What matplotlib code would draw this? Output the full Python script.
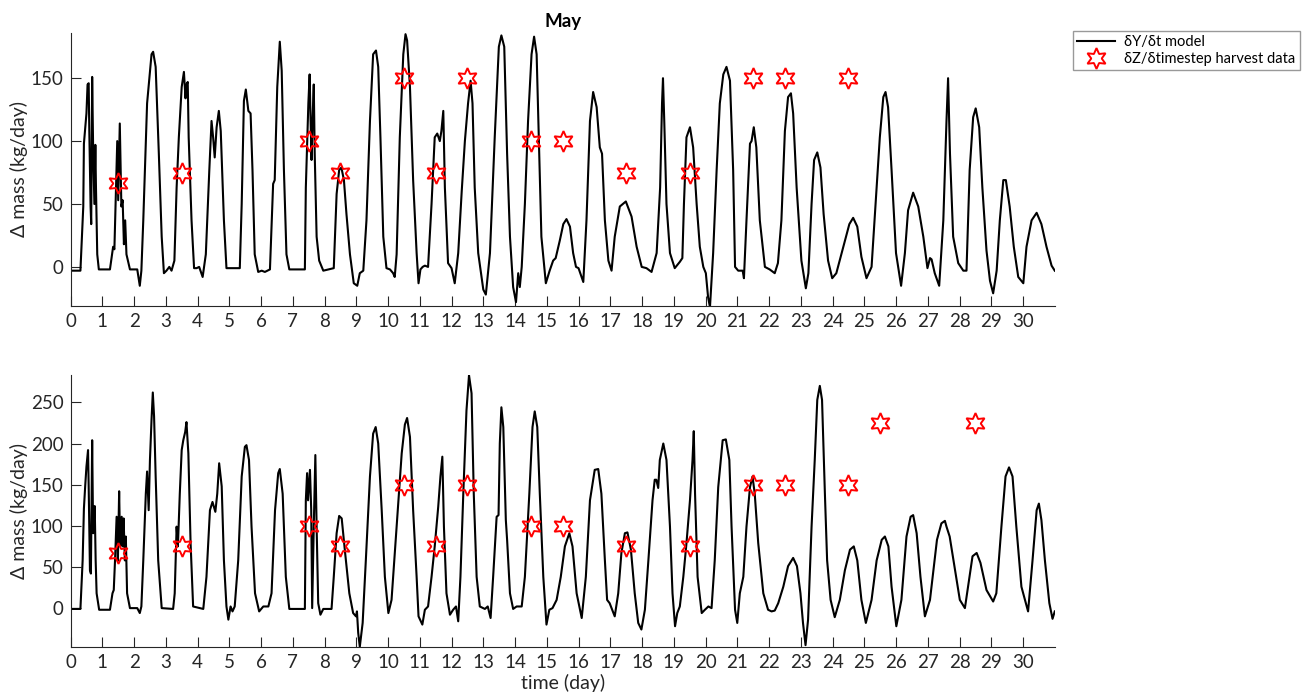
import matplotlib.pyplot as plt
import numpy as np

plt.rcParams['font.family'] = ['Lato', 'DejaVu Sans']

# model curve, top panel (time in days, kg/day)
t_top = [0.0, 0.31, 0.40, 0.42, 0.50, 0.535, 0.57, 0.59, 0.63, 0.65, 0.68, 0.71, 0.75, 0.78, 0.80, 0.84, 0.89,
         1.24, 1.34, 1.38, 1.43, 1.47, 1.50, 1.55, 1.60, 1.64, 1.68, 1.72, 1.76, 1.87, 2.10, 2.18, 2.23, 2.29,
         2.41, 2.55, 2.60, 2.68, 2.78, 2.87, 2.94, 3.02, 3.11, 3.18, 3.27, 3.34, 3.41, 3.50, 3.57, 3.62, 3.65,
         3.69, 3.72, 3.81, 3.89, 3.97, 4.05, 4.16, 4.26, 4.37, 4.44, 4.49, 4.54, 4.60, 4.67, 4.73, 4.83, 4.91,
         5.33, 5.39, 5.46, 5.52, 5.60, 5.67, 5.73, 5.80, 5.91, 6.02, 6.12, 6.28, 6.38, 6.43, 6.51, 6.59, 6.65,
         6.72, 6.80, 6.89, 7.38, 7.41, 7.49, 7.53, 7.56, 7.59, 7.62, 7.66, 7.69, 7.75, 7.83, 7.96, 8.29, 8.38,
         8.46, 8.53, 8.61, 8.69, 8.80, 8.92, 9.03, 9.11, 9.22, 9.32, 9.43, 9.53, 9.62, 9.69, 9.76, 9.85, 9.95,
         10.06, 10.16, 10.21, 10.27, 10.37, 10.48, 10.55, 10.60, 10.69, 10.79, 10.90, 10.96, 11.02, 11.09, 11.16,
         11.26, 11.37, 11.47, 11.55, 11.63, 11.68, 11.74, 11.79, 11.89, 12.00, 12.10, 12.21, 12.32, 12.42, 12.52,
         12.60, 12.66, 12.73, 12.84, 13.00, 13.08, 13.21, 13.36, 13.49, 13.57, 13.66, 13.75, 13.84, 13.94, 14.03,
         14.10, 14.15, 14.21, 14.31, 14.41, 14.52, 14.60, 14.68, 14.76, 14.83, 14.97, 15.09, 15.20, 15.28, 15.41,
         15.52, 15.62, 15.73, 15.83, 15.92, 16.00, 16.15, 16.25, 16.36, 16.46, 16.57, 16.67, 16.74, 16.83, 16.94,
         17.04, 17.14, 17.30, 17.49, 17.67, 17.83, 17.99, 18.14, 18.30, 18.46, 18.57, 18.63, 18.66, 18.70, 18.77,
         18.88, 19.03, 19.19, 19.27, 19.32, 19.40, 19.51, 19.61, 19.72, 19.82, 19.93, 20.01, 20.08, 20.14, 20.24,
         20.35, 20.45, 20.56, 20.66, 20.77, 20.87, 20.93, 21.03, 21.17, 21.21, 21.29, 21.40, 21.45, 21.52, 21.60,
         21.71, 21.87, 22.02, 22.18, 22.28, 22.39, 22.50, 22.60, 22.69, 22.76, 22.87, 23.02, 23.16, 23.24, 23.34,
         23.42, 23.52, 23.62, 23.72, 23.86, 23.99, 24.12, 24.34, 24.53, 24.65, 24.78, 24.91, 25.07, 25.23, 25.39,
         25.49, 25.60, 25.67, 25.75, 25.86, 26.00, 26.16, 26.28, 26.38, 26.54, 26.70, 26.86, 26.99, 27.07, 27.12,
         27.22, 27.36, 27.49, 27.59, 27.64, 27.70, 27.80, 27.96, 28.12, 28.22, 28.32, 28.43, 28.51, 28.62, 28.72,
         28.85, 28.96, 29.06, 29.17, 29.27, 29.38, 29.46, 29.58, 29.71, 29.85, 30.01, 30.11, 30.27, 30.43, 30.58,
         30.74, 30.90, 31.0]
y_top = [-3, -3, 48, 98, 122, 145, 146, 108, 48, 34, 151, 95, 50, 97, 63, 10, -2,
         -2, 16, 14, 63, 100, 53, 114, 48, 53, 18, 37, 10, -2, -2, -15, -3, 37,
         130, 169, 171, 159, 90, 24, -5, -3, 0, -3, 5, 63, 103, 143, 155, 134, 145,
         147, 103, 37, -1, -1, 0, -8, 10, 77, 116, 103, 87, 111, 124, 108, 37, -1,
         -1, 50, 132, 141, 124, 122, 77, 10, -4, -3, -4, -2, 66, 69, 143, 179, 156,
         77, 10, -2, -2, 63, 130, 153, 116, 85, 116, 145, 90, 24, 5, -3, -1, 58,
         77, 79, 69, 42, 10, -13, -15, -5, -3, 37, 116, 169, 172, 159, 103, 24, -1,
         -2, -5, -8, 10, 103, 169, 185, 180, 143, 69, 11, -13, -2, 0, 1,
         0, 50, 103, 106, 100, 108, 124, 63, 3, -1, -13, 11, 60, 100, 130,
         148, 130, 63, 11, -18, -22, 11, 103, 175, 184, 175, 90, 24, -16, -28,
         -5, -16, 0, 50, 116, 169, 183, 169, 90, 24, -13, -3, 5, 7, 21,
         34, 38, 32, 11, 0, -1, -12, 37, 116, 139, 127, 95, 90, 37, 5,
         -3, 24, 48, 52, 40, 16, 0, -1, -4, 11, 63, 130, 150, 116, 50,
         11, -1, 4, 7, 50, 103, 111, 95, 50, 16, 0, -5, -24, -32, 11,
         77, 130, 153, 159, 148, 77, 0, -3, -3, -9, 37, 98, 100, 111, 95,
         37, 0, -2, -5, 3, 37, 108, 135, 138, 122, 63, 5, -17, -5, 50,
         85, 91, 79, 42, 5, -9, -5, 16, 34, 39, 32, 8, -9, 0, 63,
         103, 135, 139, 127, 77, 11, -15, 11, 45, 59, 48, 24, -1, 7, 6,
         -5, -15, 37, 116, 150, 90, 24, 3, -3, -3, 77, 119, 126, 111, 63,
         13, -11, -21, -3, 37, 69, 69, 48, 16, -8, -13, 16, 37, 43, 34,
         16, 1, -3]

# model curve, bottom panel
t_bot = [0.0, 0.31, 0.38, 0.42, 0.46, 0.50, 0.55, 0.57, 0.61, 0.64, 0.68, 0.71, 0.76, 0.79, 0.82, 0.90,
         1.24, 1.32, 1.36, 1.40, 1.45, 1.49, 1.53, 1.56, 1.61, 1.64, 1.67, 1.71, 1.74, 1.78, 1.87, 2.10, 2.18,
         2.23, 2.29, 2.37, 2.41, 2.46, 2.50, 2.55, 2.59, 2.63, 2.68, 2.76, 2.87, 3.23, 3.28, 3.34, 3.38, 3.44,
         3.50, 3.55, 3.61, 3.65, 3.71, 3.78, 3.86, 4.18, 4.28, 4.39, 4.47, 4.56, 4.62, 4.68, 4.76, 4.83, 4.91,
         4.97, 5.04, 5.10, 5.17, 5.28, 5.39, 5.49, 5.54, 5.62, 5.70, 5.81, 5.94, 6.07, 6.23, 6.33, 6.44, 6.54,
         6.59, 6.68, 6.78, 6.89, 7.38, 7.41, 7.45, 7.48, 7.54, 7.58, 7.61, 7.66, 7.71, 7.75, 7.80, 7.87, 7.96,
         8.22, 8.29, 8.38, 8.46, 8.54, 8.64, 8.78, 8.90, 8.99, 9.02, 9.06, 9.11, 9.20, 9.30, 9.43, 9.53, 9.61,
         9.69, 9.80, 9.90, 10.01, 10.11, 10.27, 10.43, 10.53, 10.60, 10.69, 10.79, 10.90, 10.96, 11.08, 11.16,
         11.26, 11.37, 11.47, 11.58, 11.65, 11.71, 11.76, 11.84, 11.95, 12.05, 12.14, 12.21, 12.28, 12.37, 12.47,
         12.55, 12.63, 12.70, 12.79, 12.89, 13.05, 13.14, 13.23, 13.31, 13.42, 13.48, 13.52, 13.57, 13.63, 13.71,
         13.75, 13.84, 13.94, 14.05, 14.21, 14.31, 14.45, 14.55, 14.62, 14.70, 14.78, 14.89, 14.99, 15.08, 15.18,
         15.31, 15.44, 15.57, 15.71, 15.81, 15.94, 16.10, 16.23, 16.36, 16.51, 16.62, 16.72, 16.83, 16.90, 16.98,
         17.14, 17.25, 17.35, 17.46, 17.54, 17.65, 17.77, 17.88, 17.98, 18.09, 18.20, 18.33, 18.40, 18.45, 18.51,
         18.56, 18.67, 18.77, 18.88, 18.96, 19.04, 19.11, 19.19, 19.30, 19.40, 19.51, 19.59, 19.63, 19.67, 19.75,
         19.88, 19.98, 20.09, 20.19, 20.29, 20.40, 20.54, 20.64, 20.75, 20.82, 20.93, 21.00, 21.08, 21.19, 21.29,
         21.40, 21.48, 21.55, 21.66, 21.82, 21.97, 22.08, 22.18, 22.29, 22.45, 22.60, 22.76, 22.88, 22.99, 23.07,
         23.15, 23.23, 23.34, 23.44, 23.52, 23.60, 23.67, 23.76, 23.83, 23.94, 24.07, 24.23, 24.39, 24.55, 24.67,
         24.78, 24.91, 25.05, 25.23, 25.39, 25.55, 25.65, 25.76, 25.86, 26.01, 26.17, 26.33, 26.46, 26.54, 26.65,
         26.77, 26.91, 27.07, 27.29, 27.43, 27.54, 27.59, 27.69, 27.84, 28.01, 28.17, 28.27, 28.41, 28.54, 28.66,
         28.85, 29.06, 29.16, 29.32, 29.45, 29.56, 29.67, 29.79, 29.95, 30.16, 30.30, 30.43, 30.50, 30.58, 30.69,
         30.83, 30.93, 31.0]
y_bot = [-1, -1, 58, 121, 148, 172, 192, 148, 46, 42, 204, 91, 124, 58, 18, -2,
         -2, 18, 22, 58, 111, 58, 142, 75, 111, 75, 109, 58, 87, 18, 0, 0, -6,
         2, 58, 139, 166, 119, 180, 229, 262, 233, 160, 58, 0, -1, 18, 99, 75, 139,
         192, 204, 214, 226, 188, 79, 2, -1, 38, 119, 129, 117, 139, 176, 148, 58, 2,
         -14, 2, -4, 2, 58, 160, 196, 198, 180, 99, 18, -4, 2, 2, 18, 119, 164,
         169, 139, 38, -1, -1, 131, 164, 131, 168, 119, 0, 99, 186, 99, 6, -8, -1,
         -1, 38, 91, 112, 109, 70, 18, -6, -10, -4, -30, -47, -18, 58, 160, 212, 220,
         200, 119, 38, -6, 10, 99, 188, 223, 231, 208, 119, 38, -10, -20, -2,
         2, 38, 75, 123, 160, 184, 99, 18, -8, -2, 2, -16, 38, 139, 240,
         283, 261, 139, 38, 2, -1, 2, -12, 38, 111, 113, 200, 244, 220, 107,
         83, 18, -1, 2, 2, 38, 139, 220, 239, 220, 139, 38, -20, -2, 0,
         10, 38, 75, 91, 75, 18, -12, 38, 131, 168, 169, 139, 58, 10, 6,
         -10, 18, 67, 91, 92, 71, 18, -18, -26, -2, 58, 131, 156, 156, 146,
         180, 200, 180, 99, 18, -22, -6, 2, 38, 79, 131, 180, 215, 139, 38,
         -6, -2, 2, 0, 58, 147, 204, 205, 180, 99, -2, -18, 18, 38, 99,
         147, 160, 139, 79, 18, -2, -4, -3, 6, 26, 51, 61, 51, 18, -18,
         -45, -14, 99, 180, 253, 270, 253, 139, 58, 10, -11, 10, 46, 71, 75,
         58, 10, -18, 10, 58, 83, 87, 75, 26, -22, 10, 87, 111, 113, 91,
         38, -10, 10, 83, 103, 106, 99, 87, 51, 10, 0, 26, 63, 67, 55,
         22, 8, 18, 99, 160, 171, 160, 99, 26, -4, 58, 119, 127, 107, 58,
         6, -13, -4]

# harvest data
t_harv_top = [1.5, 3.5, 7.5, 8.5, 10.5, 11.5, 12.5, 14.5, 15.5, 17.5, 19.5, 21.5, 22.5, 24.5]
y_harv_top = [67, 75, 100, 75, 150, 75, 150, 100, 100, 75, 75, 150, 150, 150]
t_harv_bot = [1.5, 3.5, 7.5, 8.5, 10.5, 11.5, 12.5, 14.5, 15.5, 17.5, 19.5, 21.5, 22.5, 24.5, 25.5, 28.5]
y_harv_bot = [67, 75, 100, 75, 150, 75, 150, 100, 100, 75, 75, 150, 150, 150, 225, 225]

fig = plt.figure(figsize=(13.07, 7.0), dpi=100)
ax1 = fig.add_axes([0.054, 0.563, 0.753, 0.390])
ax2 = fig.add_axes([0.054, 0.076, 0.753, 0.388])

gray = '#262626'
star = (6, 1, 0)

for ax, t, y, th, yh, ylim, yt in [(ax1, t_top, y_top, t_harv_top, y_harv_top, (-31, 186), [0, 50, 100, 150]),
                                    (ax2, t_bot, y_bot, t_harv_bot, y_harv_bot, (-47, 283), [0, 50, 100, 150, 200, 250])]:
    ax.plot(t, y, color='black', lw=1.5, solid_joinstyle='round', label='δY/δt model')
    ax.plot(th, yh, linestyle='none', marker=star, markersize=15, markerfacecolor='none',
            markeredgecolor='red', markeredgewidth=1.4, label='δZ/δtimestep harvest data')
    ax.set_xlim(0, 31)
    ax.set_ylim(*ylim)
    ax.set_xticks(range(0, 31))
    ax.set_yticks(yt)
    ax.spines['top'].set_visible(False)
    ax.spines['right'].set_visible(False)
    for s in ['left', 'bottom']:
        ax.spines[s].set_color(gray)
    ax.tick_params(direction='in', length=7, colors=gray, labelsize=13.5, labelcolor=gray, pad=5)
    ax.set_ylabel('Δ mass (kg/day)', fontsize=14, color=gray, labelpad=2)

ax1.set_title('May', fontsize=13.5, fontweight='bold', pad=4)
ax2.set_xlabel('time (day)', fontsize=14, color=gray, labelpad=2)

h, l = ax1.get_legend_handles_labels()
fig.legend(h, l, loc='upper left', bbox_to_anchor=(0.821, 0.956), borderaxespad=0,
           fancybox=False, edgecolor='#999999', framealpha=1, fontsize=10.5,
           handlelength=2.6, borderpad=0.3, labelspacing=0.2, handletextpad=0.6)

fig.savefig('out.png', dpi=100)
